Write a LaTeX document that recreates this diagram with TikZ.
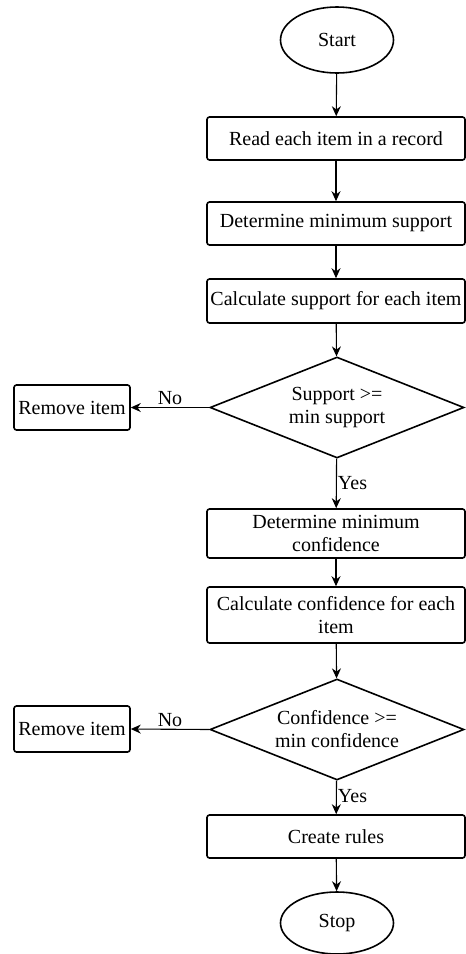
\documentclass[tikz,border=0pt]{standalone}
\usepackage{fontspec}
\setmainfont{Liberation Serif}
\usetikzlibrary{shapes.geometric,arrows.meta}

\tikzset{
  stepbox/.style={draw, line width=1.6pt, rounded corners=2.5pt, minimum width=258pt, minimum height=43pt, align=center, inner sep=0pt},
  terminal/.style={draw, ellipse, line width=1.6pt, minimum width=113pt, minimum height=66pt, inner sep=0pt},
  decision/.style={draw, diamond, aspect=2.5, line width=1.6pt, minimum width=254pt, minimum height=101pt, inner sep=0pt, align=center},
  removebox/.style={draw, line width=1.6pt, rounded corners=2.5pt, minimum width=116pt, minimum height=45pt, inner sep=0pt},
  flow/.style={line width=1.1pt, -{Stealth[length=10pt,width=9pt]}},
}

\begin{document}
\begin{tikzpicture}[x=1pt, y=-1pt, font=\fontsize{20}{23}\selectfont]

        \useasboundingbox (0,0) rectangle (466,954);

        %Main column
        \node [terminal] (start) at (337,40) {Start};
        \node [stepbox] (read) at (336,138.5) {Read each item in a record};
        \node [stepbox] (minsup) at (336,223.5) {Determine minimum support};
        \node [stepbox, minimum height=44pt] (calcsup) at (336,301) {Calculate support for each item};
        \node [decision] (supcheck) at (337,407.5) {Support >=\\min support};
        \node [stepbox, minimum height=49pt] (minconf) at (336,533.5) {Determine minimum\\confidence};
        \node [stepbox, minimum height=56pt] (calcconf) at (336,615) {Calculate confidence for each\\item};
        \node [decision] (confcheck) at (337,729.5) {Confidence >=\\min confidence};
        \node [stepbox] (rules) at (336,836.5) {Create rules};
        \node [terminal, minimum height=62pt] (stop) at (337,923) {Stop};

        %Removed items
        \node [removebox] (remsup) at (72,407.5) {Remove item};
        \node [removebox, minimum height=46pt] (remconf) at (72,729) {Remove item};

        %Arrows
        \draw [flow] (start) -- (read);
        \draw [flow] (read) -- (minsup);
        \draw [flow] (minsup) -- (calcsup);
        \draw [flow] (calcsup) -- (supcheck);
        \draw [flow] (supcheck) -- node [midway, right, inner sep=1pt] {Yes} (minconf);
        \draw [flow] (minconf) -- (calcconf);
        \draw [flow] (calcconf) -- (confcheck);
        \draw [flow] (confcheck) -- node [pos=0.45, right, inner sep=1pt] {Yes} (rules);
        \draw [flow] (rules) -- (stop);
        \draw [flow] (supcheck.west) -- node [midway, above, inner sep=2pt] {No} (remsup.east);
        \draw [flow] (confcheck.west) -- node [midway, above, inner sep=2pt] {No} (remconf.east);

\end{tikzpicture}
\end{document}
